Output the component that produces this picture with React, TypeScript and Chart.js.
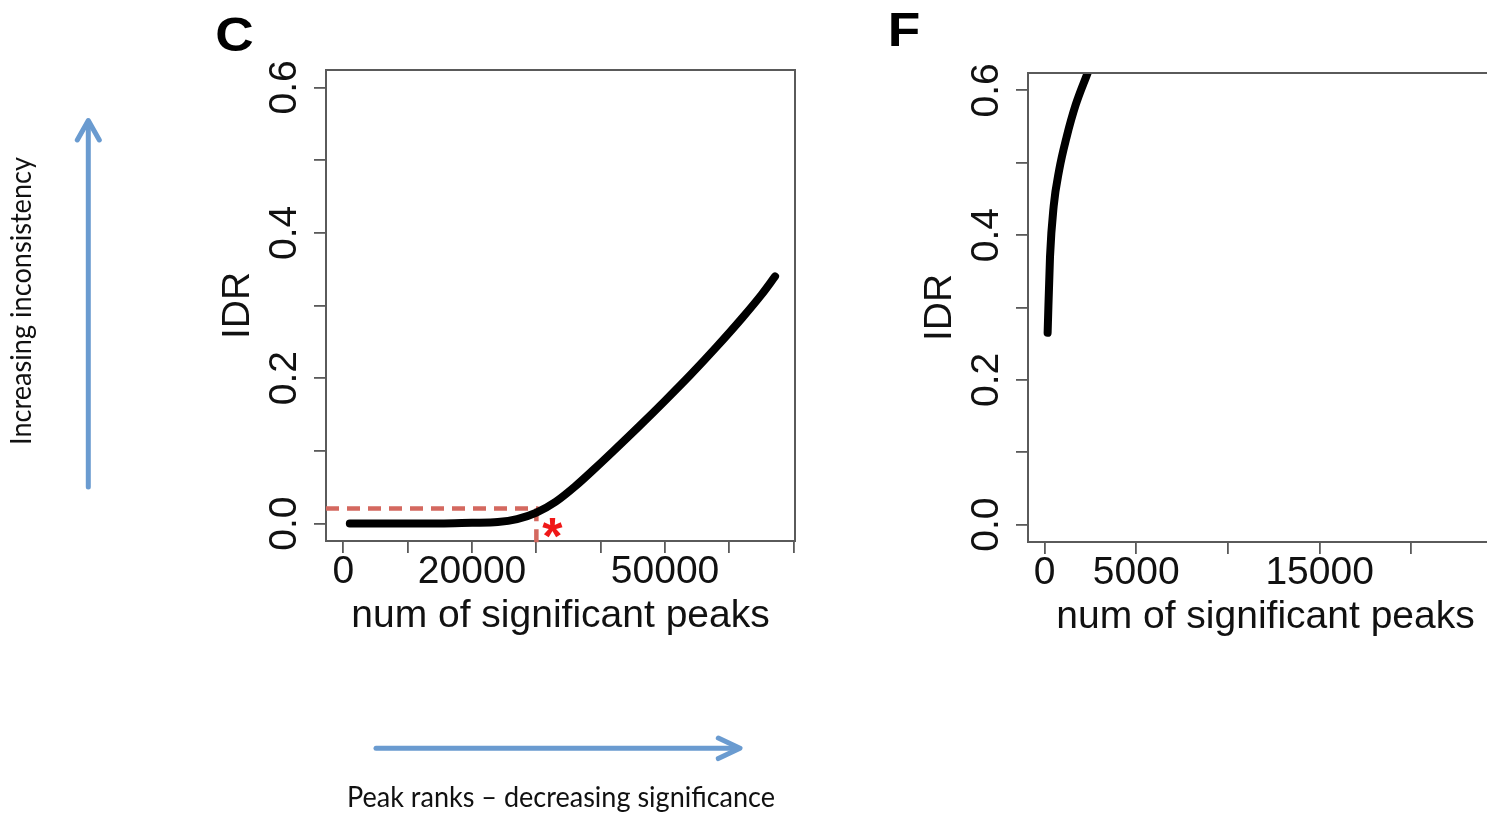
import React, { useEffect, useRef } from "react";
import { Chart, registerables } from "chart.js";

Chart.register(...registerables);

// ---------- data ----------
const C_PEAKS = [1000, 5000, 10000, 15000, 20000, 24000, 27000, 30000, 33000, 36000, 39000, 42000, 46000, 50000, 54000, 58000, 62000, 65000, 67100];
const C_IDR = [0.0, 0.0, 0.0, 0.0, 0.001, 0.002, 0.006, 0.015, 0.03, 0.051, 0.075, 0.1, 0.134, 0.169, 0.205, 0.243, 0.283, 0.315, 0.34];

const F_PEAKS = [170, 300, 500, 800, 1200, 1700, 2350];
const F_IDR = [0.265, 0.37, 0.44, 0.49, 0.535, 0.58, 0.624];

const Y_TICKS = [0, 0.1, 0.2, 0.3, 0.4, 0.5, 0.6];
const Y_LABEL_VALUES = [0, 0.2, 0.4, 0.6];
const Y_RANGE = [-0.024, 0.624];

const C_X_TICKS = [0, 10000, 20000, 30000, 40000, 50000, 60000, 70000];
const C_X_LABELS = [0, 20000, 50000];
const C_X_RANGE = [-2700, 70200];

const F_X_TICKS = [0, 5000, 10000, 15000, 20000];
const F_X_LABELS = [0, 5000, 15000];
const F_X_RANGE = [-900, 25000];

const IDR_CUTOFF = 0.0206;
const PEAKS_AT_CUTOFF = 30000;
const DROP_LINE_END = -0.031;

const X_TITLE = "num of significant peaks";
const Y_TITLE = "IDR";

// ---------- style ----------
const FONT = "'Liberation Sans', Arial, Helvetica, sans-serif";
const AXIS_COLOR = "#5a5a5a";
const TEXT_COLOR = "#111";
const BLUE = "#6a9bd0";

type PanelSpec = {
  peaks: number[];
  idr: number[];
  xRange: number[];
  xTicks: number[];
  xLabels: number[];
  padding: { left: number; right: number; top: number; bottom: number };
  withCutoff: boolean;
  curveClip: any;
};

const boxAndLabels = (withCutoff: boolean) => ({
  id: "boxAndLabels",
  afterDraw(chart: any) {
    const { ctx, chartArea } = chart;
    const xs = chart.scales.x;
    const ys = chart.scales.y;
    ctx.save();
    // top and right frame lines
    ctx.strokeStyle = AXIS_COLOR;
    ctx.lineWidth = 2;
    ctx.beginPath();
    ctx.moveTo(chartArea.left - 1, chartArea.top);
    ctx.lineTo(chartArea.right, chartArea.top);
    ctx.lineTo(chartArea.right, chartArea.bottom + 1);
    ctx.stroke();
    // rotated y tick labels
    ctx.fillStyle = TEXT_COLOR;
    ctx.font = `39px ${FONT}`;
    ctx.textAlign = "center";
    ctx.textBaseline = "middle";
    for (const v of Y_LABEL_VALUES) {
      const y = ys.getPixelForValue(v);
      ctx.save();
      ctx.translate(chartArea.left - 41, y);
      ctx.rotate(-Math.PI / 2);
      ctx.fillText(v.toFixed(1), 0, 0);
      ctx.restore();
    }
    if (withCutoff) {
      ctx.fillStyle = "#f01818";
      ctx.font = `bold 52px ${FONT}`;
      ctx.textAlign = "center";
      ctx.textBaseline = "alphabetic";
      const m = ctx.measureText("*");
      const cx = xs.getPixelForValue(PEAKS_AT_CUTOFF) + 16;
      const cy = ys.getPixelForValue(0) + 4;
      const off = (m.actualBoundingBoxAscent - m.actualBoundingBoxDescent) / 2;
      ctx.fillText("*", cx, cy + off);
    }
    ctx.restore();
  },
});

function makeConfig(spec: PanelSpec): any {
  const datasets: any[] = [
    {
      data: spec.peaks.map((p, i) => ({ x: p, y: spec.idr[i] })),
      borderColor: "#000",
      borderWidth: 8,
      pointRadius: 0,
      cubicInterpolationMode: "monotone",
      borderCapStyle: "round",
      borderJoinStyle: "round",
      fill: false,
      clip: spec.curveClip,
      order: 1,
    },
  ];
  if (spec.withCutoff) {
    datasets.push({
      data: [
        { x: spec.xRange[0], y: IDR_CUTOFF },
        { x: PEAKS_AT_CUTOFF, y: IDR_CUTOFF },
        { x: PEAKS_AT_CUTOFF, y: DROP_LINE_END },
      ],
      borderColor: "#d4685f",
      borderWidth: 4.5,
      borderDash: [13, 8],
      pointRadius: 0,
      tension: 0,
      fill: false,
      clip: false,
      order: 2,
    });
  }
  const grid = {
    display: true,
    drawOnChartArea: false,
    drawTicks: true,
    tickLength: 12,
    color: AXIS_COLOR,
    lineWidth: 1.8,
  };
  const border = { display: true, color: AXIS_COLOR, width: 2 };
  return {
    type: "line",
    data: { datasets },
    options: {
      animation: false,
      responsive: false,
      devicePixelRatio: 1,
      events: [],
      layout: { padding: spec.padding },
      plugins: { legend: { display: false }, tooltip: { enabled: false } },
      scales: {
        x: {
          type: "linear",
          min: spec.xRange[0],
          max: spec.xRange[1],
          afterBuildTicks: (s: any) => {
            s.ticks = spec.xTicks.map((v) => ({ value: v }));
          },
          afterFit: (s: any) => {
            s.height = 100;
          },
          ticks: {
            autoSkip: false,
            maxRotation: 0,
            minRotation: 0,
            padding: 0,
            color: TEXT_COLOR,
            font: { family: FONT, size: 39, lineHeight: 1 },
            callback: (v: any) => (spec.xLabels.includes(v) ? String(v) : ""),
          },
          grid,
          border,
          title: {
            display: true,
            text: X_TITLE,
            color: TEXT_COLOR,
            font: { family: FONT, size: 39, lineHeight: 1 },
            padding: { top: 0, bottom: 5.5 },
          },
        },
        y: {
          type: "linear",
          min: Y_RANGE[0],
          max: Y_RANGE[1],
          afterBuildTicks: (s: any) => {
            s.ticks = Y_TICKS.map((v) => ({ value: v }));
          },
          afterFit: (s: any) => {
            s.width = 110;
          },
          ticks: { display: false },
          grid,
          border,
          title: {
            display: true,
            text: Y_TITLE,
            color: TEXT_COLOR,
            font: { family: FONT, size: 39, lineHeight: 1 },
            padding: { top: 2.5, bottom: 0 },
          },
        },
      },
    },
    plugins: [boxAndLabels(spec.withCutoff)],
  };
}

function Panel({ spec, width, height }: { spec: PanelSpec; width: number; height: number }) {
  const ref = useRef<HTMLCanvasElement | null>(null);
  useEffect(() => {
    if (!ref.current) return;
    const chart = new Chart(ref.current, makeConfig(spec));
    return () => chart.destroy();
  }, []);
  return (
    <canvas
      ref={ref}
      width={width}
      height={height}
      style={{ position: "absolute", left: 0, top: 0, width, height }}
    />
  );
}

const PANEL_C: PanelSpec = {
  peaks: C_PEAKS,
  idr: C_IDR,
  xRange: C_X_RANGE,
  xTicks: C_X_TICKS,
  xLabels: C_X_LABELS,
  padding: { left: 216, right: 1487 - 795, top: 70, bottom: 815 - 541 - 100 },
  withCutoff: true,
  curveClip: undefined,
};

const PANEL_F: PanelSpec = {
  peaks: F_PEAKS,
  idr: F_IDR,
  xRange: F_X_RANGE,
  xTicks: F_X_TICKS,
  xLabels: F_X_LABELS,
  padding: { left: 918, right: 1560 - 1503, top: 73, bottom: 815 - 542 - 100 },
  withCutoff: false,
  curveClip: 0,
};

export default function App() {
  return (
    <div
      style={{
        position: "fixed",
        left: 0,
        top: 0,
        width: 1487,
        height: 815,
        overflow: "hidden",
        background: "#fff",
      }}
    >
      <Panel spec={PANEL_C} width={1487} height={815} />
      <Panel spec={PANEL_F} width={1560} height={815} />
      <svg
        width={1487}
        height={815}
        style={{ position: "absolute", left: 0, top: 0 }}
      >
        <g stroke={BLUE} strokeWidth={5} fill="none" strokeLinecap="round" strokeLinejoin="round">
          <line x1={88.3} y1={487} x2={88.3} y2={122} />
          <polyline points="77.3,140 88.3,120.5 99.3,140" />
          <line x1={376} y1={748.3} x2={738} y2={748.3} />
          <polyline points="718.3,738 740,748.3 718.3,758.6" />
        </g>
        <text
          x={347}
          y={807}
          fontFamily="Lato, 'Open Sans', sans-serif"
          fontSize={29}
          textLength={428}
          lengthAdjust="spacingAndGlyphs"
          fill={TEXT_COLOR}
        >
          Peak ranks – decreasing significance
        </text>
        <text
          transform="translate(31,445) rotate(-90)"
          fontFamily="Lato, 'Open Sans', sans-serif"
          fontSize={29}
          textLength={288}
          lengthAdjust="spacingAndGlyphs"
          fill={TEXT_COLOR}
        >
          Increasing inconsistency
        </text>
        <text
          transform="translate(215.2,51) scale(1.11,1)"
          fontFamily={FONT}
          fontWeight="bold"
          fontSize={48}
          fill="#000"
        >
          C
        </text>
        <text
          transform="translate(887.8,46) scale(1.11,1)"
          fontFamily={FONT}
          fontWeight="bold"
          fontSize={48}
          fill="#000"
        >
          F
        </text>
      </svg>
    </div>
  );
}
